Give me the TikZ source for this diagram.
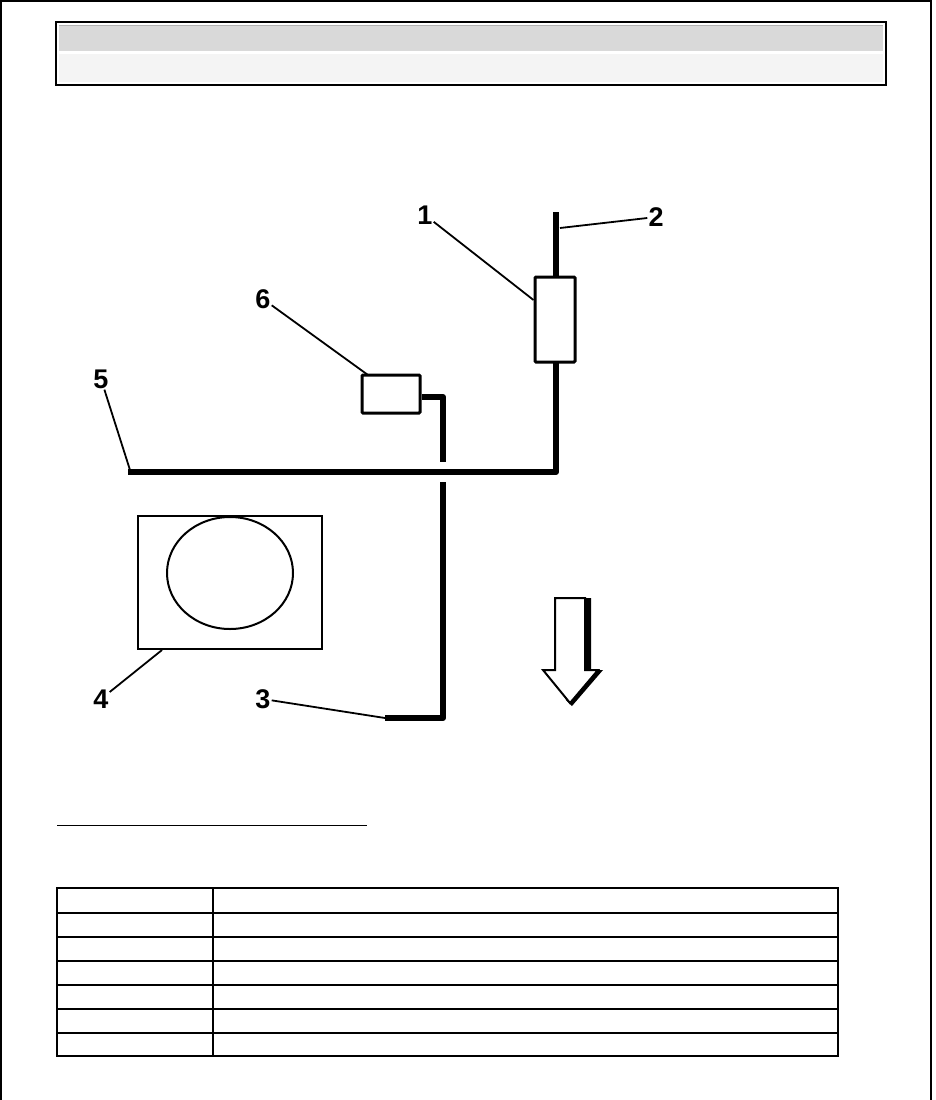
\documentclass[tikz,border=0pt]{standalone}
\usepackage{fontspec}
\setmainfont{Liberation Sans}
\usetikzlibrary{shapes.geometric}
\begin{document}
\begin{tikzpicture}[x=1pt,y=-1pt,
  wire/.style={line width=6pt,line join=round},
  lead/.style={line width=1.8pt},
  part/.style={draw,line width=3pt,rounded corners=1pt,fill=white},
  lbl/.style={font=\bfseries\fontsize{27}{27}\selectfont,inner sep=1pt},
  tab/.style={line width=1.2pt}]
\useasboundingbox (0,0) rectangle (935,1100);
\draw[line width=2pt] (1,1100) -- (1,1) -- (931,1) -- (931,1100);
% header
\draw[line width=1.2pt,fill=white] (56,22) rectangle (886,85);
\fill[gray!30] (59,25) rectangle (883,51);
\fill[gray!9] (59,54) rectangle (883,82);
\draw[gray!60] (59,25) -- (883,25);
% harness
\draw[wire] (556,212) -- (556,472) -- (128,472);
\node[part,minimum width=40pt,minimum height=85pt,inner sep=0] (b1) at (555,319.5) {};
\node[part,minimum width=58pt,minimum height=38pt,inner sep=0] (b6) at (391,394) {};
\draw[wire] (b6.east |- 0,397) -- (443,397) -- (443,462);
\draw[wire] (443,482) -- (443,718) -- (385,718);
\coordinate (w2) at (560,228);
\coordinate (w5) at (130,470);
\coordinate (w3) at (385,718);
% part 4
\node[draw,line width=2.5pt,minimum width=184pt,minimum height=133pt,inner sep=0] (b4) at (230,582.5) {};
\node[draw,line width=2pt,ellipse,minimum width=126pt,minimum height=112pt,inner sep=0] (e4) at (230,573) {};
% labels
\node[lbl] (l1) at (425,215) {1};
\node[lbl] (l2) at (656,217) {2};
\node[lbl] (l6) at (263,299) {6};
\node[lbl] (l5) at (101,379) {5};
\node[lbl] (l4) at (101,699) {4};
\node[lbl] (l3) at (263,699) {3};
\draw[lead] (l1) -- (b1.west |- 0,300);
\draw[lead] (l2) -- (w2);
\draw[lead] (l6) -- (368,375);
\draw[lead] (l5) -- (w5);
\draw[lead] (l4) -- (162,650);
\draw[lead] (l3) -- (w3);
% arrow
\fill (559,598) -- (591,598) -- (591,670) -- (603,670) -- (572,706) -- (566,700) -- cycle;
\draw[line width=2pt,fill=white,line join=miter] (555,598) -- (585,598) -- (585,670) -- (598,670) -- (570,703) -- (543,670) -- (555,670) -- cycle;
% bottom
\draw[line width=1pt] (57,825) -- (367,825);
\draw[line width=2pt] (57,888) rectangle (838,1056);
\foreach \y in {913,937,961,985,1009,1033} \draw[tab] (57,\y) -- (838,\y);
\draw[tab] (213,888) -- (213,1056);
\end{tikzpicture}
\end{document}
